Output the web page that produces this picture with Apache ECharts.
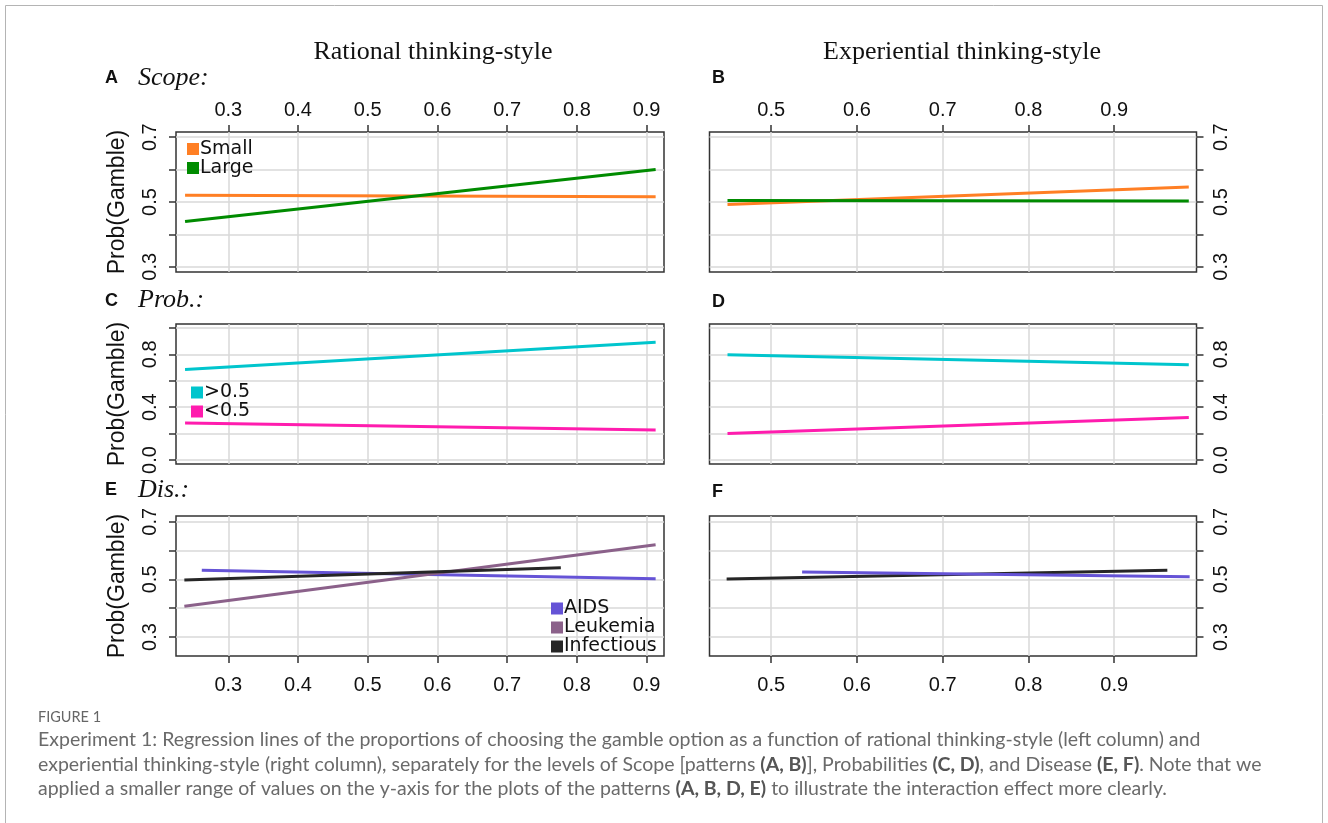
<!DOCTYPE html>
<html>
<head>
<meta charset="utf-8">
<script src="https://cdn.jsdelivr.net/npm/echarts@6/dist/echarts.min.js"></script>
<style>
  html, body { margin: 0; padding: 0; background: #fff; }
  #chart { width: 1328px; height: 823px; }
</style>
</head>
<body>
<div id="chart"></div>
<script>
// ---- tick positions and labels ----
const ratTicks = [0.3, 0.4, 0.5, 0.6, 0.7, 0.8, 0.9];
const expTicks = [0.5, 0.6, 0.7, 0.8, 0.9];
const yTicksNarrow = [0.3, 0.4, 0.5, 0.6, 0.7];
const yLabelsNarrow = [0.3, 0.5, 0.7];
const yTicksWide = [0.0, 0.2, 0.4, 0.6, 0.8, 1.0];
const yLabelsWide = [0.0, 0.4, 0.8];

// ---- group names ----
const scopeNames = ['Small', 'Large'];
const probNames = ['>0.5', '<0.5'];
const disNames = ['AIDS', 'Leukemia', 'Infectious'];

// ---- fitted regression lines (end points) ----
// Scope, rational thinking-style
const ratScopeX = [0.238, 0.913];
const ratSmall = [0.521, 0.516];
const ratLarge = [0.440, 0.600];
// Scope, experiential thinking-style
const expScopeX = [0.449, 0.987];
const expSmall = [0.492, 0.546];
const expLarge = [0.505, 0.503];
// Probabilities, rational
const ratProbX = [0.238, 0.913];
const ratHigh = [0.685, 0.892];
const ratLow = [0.280, 0.227];
// Probabilities, experiential
const expProbX = [0.449, 0.987];
const expHigh = [0.797, 0.721];
const expLow = [0.200, 0.323];
// Disease, rational
const ratAidsX = [0.262, 0.913];
const ratAids = [0.532, 0.502];
const ratLeukX = [0.237, 0.913];
const ratLeuk = [0.407, 0.620];
const ratInfX = [0.237, 0.777];
const ratInf = [0.498, 0.540];
// Disease, experiential
const expAidsX = [0.536, 0.988];
const expAids = [0.526, 0.509];
const expInfX = [0.448, 0.962];
const expInf = [0.501, 0.532];

// ---- colours ----
const colors = {
  'Small': '#FF7F24', 'Large': '#008B00',
  '>0.5': '#00C5CD', '<0.5': '#FF1CAE',
  'AIDS': '#6553D6', 'Leukemia': '#8B618A', 'Infectious': '#262626'
};

// ---- layout of the six panels ----
const colLeft = [176, 709.5];
const colWidth = [488, 487];
const rowTop = [132, 324, 516];
const rowHeight = 140;
const xRange = [[0.225, 0.925], [0.428, 0.996]];
const yRange = [[0.284, 0.716], [-0.03, 1.03], [0.234, 0.72]];

const AXIS_COLOR = '#333';
const GRID_COLOR = '#d9d9d9';
const SANS = '"Liberation Sans", Arial, sans-serif';
const SERIF = '"Liberation Serif", "Times New Roman", serif';

const grids = [], xAxes = [], yAxes = [], series = [];

function fmt(v) { return Number(v).toFixed(1); }

for (let r = 0; r < 3; r++) {
  for (let c = 0; c < 2; c++) {
    const gi = grids.length;
    grids.push({
      left: colLeft[c], top: rowTop[r], width: colWidth[c], height: rowHeight,
      show: true, borderColor: AXIS_COLOR, borderWidth: 1.5, backgroundColor: 'transparent'
    });
    const xt = c === 0 ? ratTicks : expTicks;
    const showX = r !== 1;
    xAxes.push({
      type: 'value', gridIndex: gi, min: xRange[c][0], max: xRange[c][1],
      position: r === 0 ? 'top' : 'bottom',
      axisLine: { show: false },
      axisTick: { show: showX, customValues: xt, length: 7, inside: false,
                  lineStyle: { color: AXIS_COLOR, width: 1.5 } },
      axisLabel: { show: showX, customValues: xt, formatter: fmt,
                   margin: r === 0 ? 12 : 19, fontSize: 20, color: '#111', fontFamily: SANS },
      splitLine: { show: true, lineStyle: { color: GRID_COLOR, width: 1.5 } }
    });
    const yt = r === 1 ? yTicksWide : yTicksNarrow;
    const yl = r === 1 ? yLabelsWide : yLabelsNarrow;
    yAxes.push({
      type: 'value', gridIndex: gi, min: yRange[r][0], max: yRange[r][1],
      position: c === 0 ? 'left' : 'right',
      name: c === 0 ? 'Prob(Gamble)' : '',
      nameLocation: 'middle', nameRotate: 90, nameGap: 47,
      nameTextStyle: { fontSize: 23, color: '#111', fontFamily: SANS },
      axisLine: { show: false },
      axisTick: { show: true, customValues: yt, length: 7, inside: false,
                  lineStyle: { color: AXIS_COLOR, width: 1.5 } },
      axisLabel: { show: true, customValues: yl, formatter: fmt, rotate: 90,
                   margin: c === 0 ? 16 : 15, fontSize: 20, color: '#111', fontFamily: SANS },
      splitLine: { show: true, lineStyle: { color: GRID_COLOR, width: 1.5 } }
    });
  }
}

function addLine(gi, name, xs, ys) {
  series.push({
    type: 'line', name: name, xAxisIndex: gi, yAxisIndex: gi,
    data: xs.map((x, i) => [x, ys[i]]),
    showSymbol: false, symbol: 'none',
    lineStyle: { color: colors[name], width: 3 },
    itemStyle: { color: colors[name] },
    z: 3
  });
}

// A / B : Scope
addLine(0, 'Small', ratScopeX, ratSmall);
addLine(0, 'Large', ratScopeX, ratLarge);
addLine(1, 'Small', expScopeX, expSmall);
addLine(1, 'Large', expScopeX, expLarge);
// C / D : Probabilities
addLine(2, '>0.5', ratProbX, ratHigh);
addLine(2, '<0.5', ratProbX, ratLow);
addLine(3, '>0.5', expProbX, expHigh);
addLine(3, '<0.5', expProbX, expLow);
// E / F : Disease
addLine(4, 'AIDS', ratAidsX, ratAids);
addLine(4, 'Leukemia', ratLeukX, ratLeuk);
addLine(4, 'Infectious', ratInfX, ratInf);
addLine(5, 'Infectious', expInfX, expInf);
addLine(5, 'AIDS', expAidsX, expAids);

function legendCfg(names, left, top, lh) {
  return {
    data: names, left: left, top: top, orient: 'vertical',
    icon: 'rect', itemWidth: 12, itemHeight: 12, itemGap: 0,
    selectedMode: false, padding: 0,
    textStyle: { fontFamily: '"DejaVu Sans", sans-serif', fontSize: 19, lineHeight: lh,
                 color: '#111', padding: [0, 0, 0, -4] }
  };
}

const graphic = [
  { type: 'rect', silent: true, shape: { x: 5.5, y: 5.5, width: 1317, height: 840 },
    style: { fill: 'none', stroke: '#b4b4b4', lineWidth: 1 } },
  // column titles
  { type: 'text', x: 433, y: 52, style: { text: 'Rational thinking-style', align: 'center', verticalAlign: 'middle',
      fontFamily: SERIF, fontSize: 26, fill: '#111' } },
  { type: 'text', x: 962, y: 52, style: { text: 'Experiential thinking-style', align: 'center', verticalAlign: 'middle',
      fontFamily: SERIF, fontSize: 26, fill: '#111' } }
];

const panelLetters = [['A', 105, 78], ['B', 712, 78], ['C', 105, 301], ['D', 712, 302], ['E', 105, 490], ['F', 712, 492]];
panelLetters.forEach(p => graphic.push({
  type: 'text', x: p[1], y: p[2],
  style: { text: p[0], verticalAlign: 'middle', fontFamily: SANS, fontWeight: 'bold', fontSize: 18, fill: '#111' }
}));
const factorTitles = [['Scope:', 78], ['Prob.:', 300], ['Dis.:', 490]];
factorTitles.forEach(t => graphic.push({
  type: 'text', x: 138, y: t[1],
  style: { text: t[0], verticalAlign: 'middle', fontFamily: SERIF, fontStyle: 'italic', fontSize: 26, fill: '#111' }
}));

// caption
const CAP_FONT = 'Lato, "Open Sans", sans-serif';
graphic.push({ type: 'text', x: 38, y: 717, style: { text: 'FIGURE 1', verticalAlign: 'middle',
  fontFamily: CAP_FONT, fontSize: 14.5, fill: '#666' } });
const captionLines = [
  'Experiment 1: Regression lines of the proportions of choosing the gamble option as a function of rational thinking-style (left column) and',
  'experiential thinking-style (right column), separately for the levels of Scope [patterns {b|(A, B)}], Probabilities {b|(C, D)}, and Disease {b|(E, F)}. Note that we',
  'applied a smaller range of values on the y-axis for the plots of the patterns {b|(A, B, D, E)} to illustrate the interaction effect more clearly.'
];
const CAP_SIZE = 19.5;
captionLines.forEach((line, i) => graphic.push({
  type: 'text', x: 38, y: 740 + i * 24.5,
  style: { text: line, verticalAlign: 'middle', fontFamily: CAP_FONT, fontSize: CAP_SIZE, fill: '#6a6a6a',
           rich: { b: { fontFamily: CAP_FONT, fontSize: CAP_SIZE, fontWeight: 'bold', fill: '#555' } } }
}));

const chart = echarts.init(document.getElementById('chart'), null, { renderer: 'canvas' });
chart.setOption({
  animation: false,
  backgroundColor: '#fff',
  grid: grids,
  xAxis: xAxes,
  yAxis: yAxes,
  legend: [
    legendCfg(scopeNames, 187, 139.5, 17),
    legendCfg(probNames, 191, 383, 17),
    legendCfg(disNames, 551, 599, 18)
  ],
  series: series,
  graphic: graphic
});
</script>
</body>
</html>
